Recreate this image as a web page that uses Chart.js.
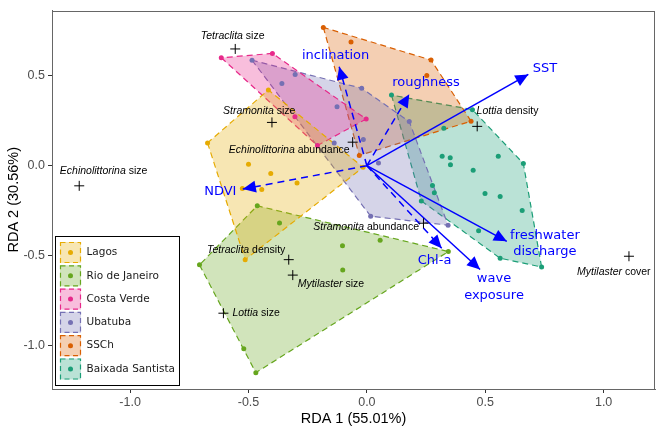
<!DOCTYPE html>
<html>
<head>
<meta charset="utf-8">
<script src="https://cdn.jsdelivr.net/npm/chart.js@4.4.0/dist/chart.umd.min.js"></script>
<style>
  body { margin: 0; background: #fff; }
</style>
</head>
<body>
<canvas id="rdaChart" width="665" height="432"></canvas>
<script>
// site scores (RDA1, RDA2) per region
var groups = ["Lagos", "Rio de Janeiro", "Costa Verde", "Ubatuba", "SSCh", "Baixada Santista"];

var lagosX = [-0.416, -0.673, -0.500, -0.406, -0.295, -0.526, -0.444, -0.514, -0.016];
var lagosY = [0.422, 0.127, 0.008, -0.044, -0.096, -0.127, -0.133, -0.523, -0.009];

var rioX = [-0.463, -0.369, -0.103, -0.102, 0.056, 0.344, -0.707, -0.520, -0.469];
var rioY = [-0.223, -0.319, -0.445, -0.581, -0.415, -0.478, -0.552, -1.019, -1.152];

var costaVerdeX = [-0.615, -0.399, -0.304, -0.209, -0.003];
var costaVerdeY = [0.601, 0.625, 0.273, 0.112, 0.260];

var ubatubaX = [-0.485, -0.303, -0.359, -0.126, -0.138, -0.022, 0.179, -0.015, 0.049, 0.016, 0.343];
var ubatubaY = [0.587, 0.508, 0.458, 0.328, 0.127, 0.431, 0.246, 0.146, 0.015, -0.281, -0.331];

var sschX = [-0.184, -0.067, 0.271, 0.253, 0.440, -0.032];
var sschY = [0.770, 0.688, 0.588, 0.502, 0.248, 0.057];

var baixadaX = [0.104, 0.446, 0.325, 0.318, 0.352, 0.353, 0.555, 0.661, 0.449, 0.277, 0.285, 0.230, 0.499, 0.563, 0.656, 0.472, 0.563, 0.738];
var baixadaY = [0.393, 0.312, 0.208, 0.052, 0.044, 0.005, 0.052, 0.012, -0.025, -0.110, -0.150, -0.196, -0.155, -0.172, -0.249, -0.362, -0.515, -0.564];

// environmental vectors
var envNames = ["SST", "inclination", "roughness", "NDVI", "freshwater\ndischarge", "wave\nexposure", "Chl-a"];
var envRDA1 = [0.682, -0.117, 0.179, -0.524, 0.591, 0.478, 0.316];
var envRDA2 = [0.508, 0.551, 0.398, -0.130, -0.421, -0.578, -0.459];
var envLabelRDA1 = [0.752, -0.132, 0.250, -0.619, 0.752, 0.537, 0.286];
var envLabelRDA2 = [0.540, 0.611, 0.462, -0.145, -0.434, -0.675, -0.527];
var envDashed = [false, true, true, true, false, false, true];

// species scores
var speciesGenus = ["Tetraclita", "Stramonita", "Echinolittorina", "Echinolittorina", "Lottia", "Stramonita", "Tetraclita", "Mytilaster", "Lottia", "Mytilaster"];
var speciesTrait = ["size", "size", "size", "abundance", "density", "abundance", "density", "size", "size", "cover"];
var speciesRDA1 = [-0.556, -0.401, -1.215, -0.060, 0.466, 0.239, -0.330, -0.313, -0.606, 1.107];
var speciesRDA2 = [0.650, 0.241, -0.112, 0.131, 0.219, -0.320, -0.523, -0.609, -0.821, -0.504];
var speciesLabelRDA1 = [-0.567, -0.455, -1.112, -0.328, 0.594, -0.003, -0.510, -0.152, -0.468, 1.043];
var speciesLabelRDA2 = [0.720, 0.302, -0.031, 0.085, 0.302, -0.344, -0.471, -0.657, -0.821, -0.591];

var xTicks = [-1.0, -0.5, 0.0, 0.5, 1.0];
var yTicks = [-1.0, -0.5, 0.0, 0.5];

var groupX = [lagosX, rioX, costaVerdeX, ubatubaX, sschX, baixadaX];
var groupY = [lagosY, rioY, costaVerdeY, ubatubaY, sschY, baixadaY];
var groupColors = ["#E6AB02", "#66A61E", "#E7298A", "#7570B3", "#D95F02", "#1B9E77"];

function alpha(hex, a) {
  var r = parseInt(hex.substr(1, 2), 16), g = parseInt(hex.substr(3, 2), 16), b = parseInt(hex.substr(5, 2), 16);
  return "rgba(" + r + "," + g + "," + b + "," + a + ")";
}

// convex hull (monotone chain), closed
function hull(xs, ys) {
  var pts = xs.map(function (x, i) { return { x: x, y: ys[i] }; });
  pts.sort(function (a, b) { return a.x - b.x || a.y - b.y; });
  function cross(o, a, b) { return (a.x - o.x) * (b.y - o.y) - (a.y - o.y) * (b.x - o.x); }
  var lower = [], upper = [];
  pts.forEach(function (p) {
    while (lower.length >= 2 && cross(lower[lower.length - 2], lower[lower.length - 1], p) <= 0) lower.pop();
    lower.push(p);
  });
  for (var i = pts.length - 1; i >= 0; i--) {
    var p = pts[i];
    while (upper.length >= 2 && cross(upper[upper.length - 2], upper[upper.length - 1], p) <= 0) upper.pop();
    upper.push(p);
  }
  upper.pop(); lower.pop();
  var h = lower.concat(upper);
  h.push(h[0]);
  return h;
}

var datasets = [];
groups.forEach(function (g, i) {
  datasets.push({
    label: g + " hull",
    data: hull(groupX[i], groupY[i]),
    showLine: true,
    fill: "shape",
    backgroundColor: alpha(groupColors[i], 0.3),
    borderColor: groupColors[i],
    borderWidth: 1.2,
    borderDash: [6, 4],
    pointRadius: 0,
    tension: 0,
    order: 10 + i
  });
  datasets.push({
    label: g,
    data: groupX[i].map(function (x, k) { return { x: x, y: groupY[i][k] }; }),
    pointRadius: 2.5,
    backgroundColor: groupColors[i],
    borderWidth: 0,
    order: 5
  });
});
envNames.forEach(function (n, i) {
  datasets.push({
    label: n,
    data: [{ x: 0, y: 0 }, { x: envRDA1[i], y: envRDA2[i] }],
    showLine: true,
    borderColor: "#0000ff",
    borderWidth: 1.5,
    borderDash: envDashed[i] ? [7, 5] : [],
    pointRadius: 0,
    order: 2
  });
});
datasets.push({
  label: "species",
  data: speciesRDA1.map(function (x, k) { return { x: x, y: speciesRDA2[k] }; }),
  pointStyle: "cross",
  pointRadius: 5,
  borderColor: "#000",
  borderWidth: 1,
  order: 1
});

// arrow heads, labels, panel border and legend
var overlay = {
  id: "overlay",
  afterDatasetsDraw: function (chart) {
    var ctx = chart.ctx, xs = chart.scales.x, ys = chart.scales.y, area = chart.chartArea;
    ctx.save();
    ctx.beginPath();
    ctx.rect(area.left, area.top, area.right - area.left, area.bottom - area.top);
    ctx.clip();

    // arrow heads
    var ox = xs.getPixelForValue(0), oy = ys.getPixelForValue(0);
    ctx.fillStyle = "#0000ff";
    envNames.forEach(function (n, i) {
      var tx = xs.getPixelForValue(envRDA1[i]), ty = ys.getPixelForValue(envRDA2[i]);
      var a = Math.atan2(ty - oy, tx - ox), L = 13, W = 6;
      var bx = tx - L * Math.cos(a), by = ty - L * Math.sin(a);
      ctx.beginPath();
      ctx.moveTo(tx, ty);
      ctx.lineTo(bx + W * Math.sin(a), by - W * Math.cos(a));
      ctx.lineTo(bx - W * Math.sin(a), by + W * Math.cos(a));
      ctx.closePath();
      ctx.fill();
    });

    // arrow labels
    ctx.font = "13px 'DejaVu Sans'";
    ctx.textAlign = "center";
    ctx.textBaseline = "middle";
    envNames.forEach(function (n, i) {
      var lines = n.split("\n");
      var cx = xs.getPixelForValue(envLabelRDA1[i]), cy = ys.getPixelForValue(envLabelRDA2[i]);
      lines.forEach(function (t, k) {
        ctx.fillText(t, cx, cy + (k - (lines.length - 1) / 2) * 16.7);
      });
    });

    // species labels: italic genus + plain trait
    ctx.fillStyle = "#000";
    ctx.textAlign = "left";
    speciesGenus.forEach(function (g, i) {
      var cx = xs.getPixelForValue(speciesLabelRDA1[i]), cy = ys.getPixelForValue(speciesLabelRDA2[i]);
      ctx.font = "italic 10.5px 'Liberation Sans'";
      var w1 = ctx.measureText(g).width;
      ctx.font = "10.5px 'Liberation Sans'";
      var rest = " " + speciesTrait[i];
      var w2 = ctx.measureText(rest).width;
      var sx = cx - (w1 + w2) / 2;
      ctx.font = "italic 10.5px 'Liberation Sans'";
      ctx.fillText(g, sx, cy);
      ctx.font = "10.5px 'Liberation Sans'";
      ctx.fillText(rest, sx + w1, cy);
    });
    ctx.restore();

    // panel border
    ctx.save();
    ctx.strokeStyle = "#666";
    ctx.lineWidth = 1;
    ctx.strokeRect(Math.round(area.left) + 0.5, Math.round(area.top) + 0.5,
      Math.round(area.right - area.left) - 1, Math.round(area.bottom - area.top) - 1);

    // legend
    var lx = 55, ly = 236, lw = 124, lh = 149;
    ctx.fillStyle = "#fff";
    ctx.fillRect(lx, ly, lw, lh);
    ctx.strokeStyle = "#000";
    ctx.strokeRect(lx + 0.5, ly + 0.5, lw, lh);
    groups.forEach(function (g, i) {
      var kx = 60, ky = 242 + i * 23.3, ks = 21;
      ctx.fillStyle = alpha(groupColors[i], 0.3);
      ctx.fillRect(kx, ky, ks, ks);
      ctx.strokeStyle = groupColors[i];
      ctx.lineWidth = 1.2;
      ctx.setLineDash([5, 3.5]);
      ctx.strokeRect(kx + 0.5, ky + 0.5, ks - 1, ks - 1);
      ctx.setLineDash([]);
      ctx.fillStyle = groupColors[i];
      ctx.beginPath();
      ctx.arc(kx + ks / 2, ky + ks / 2, 2.5, 0, Math.PI * 2);
      ctx.fill();
      ctx.fillStyle = "#1a1a1a";
      ctx.font = "10.5px 'DejaVu Sans'";
      ctx.textAlign = "left";
      ctx.textBaseline = "middle";
      ctx.fillText(g, 86.5, ky + ks / 2);
    });
    ctx.restore();
  }
};

Chart.defaults.font.family = "'Liberation Sans', Arial, sans-serif";

new Chart(document.getElementById("rdaChart").getContext("2d"), {
  type: "scatter",
  data: { datasets: datasets },
  options: {
    responsive: false,
    animation: false,
    events: [],
    devicePixelRatio: 1,
    layout: { padding: { top: 7, right: 10, left: 0, bottom: 0 } },
    plugins: { legend: { display: false }, tooltip: { enabled: false } },
    scales: {
      x: {
        type: "linear",
        min: -1.33,
        max: 1.217,
        afterBuildTicks: function (s) { s.ticks = xTicks.map(function (v) { return { value: v }; }); },
        afterFit: function (s) { s.height = 43; },
        ticks: {
          callback: function (v) { return v.toFixed(1); },
          color: "#4d4d4d",
          font: { size: 12.5 },
          padding: 2,
          maxRotation: 0,
          autoSkip: false
        },
        grid: { drawOnChartArea: false, tickLength: 4, color: "#666", tickColor: "#333" },
        border: { color: "#666" },
        title: { display: true, text: "RDA 1 (55.01%)", color: "#000", font: { size: 14.5 }, padding: { top: 1, bottom: 4 } }
      },
      y: {
        type: "linear",
        min: -1.243,
        max: 0.864,
        afterBuildTicks: function (s) { s.ticks = yTicks.map(function (v) { return { value: v }; }); },
        afterFit: function (s) { s.width = 52; },
        ticks: {
          callback: function (v) { return v.toFixed(1); },
          color: "#4d4d4d",
          font: { size: 12.5 },
          padding: 3,
          autoSkip: false
        },
        grid: { drawOnChartArea: false, tickLength: 4, color: "#666", tickColor: "#333" },
        border: { color: "#666" },
        title: { display: true, text: "RDA 2 (30.56%)", color: "#000", font: { size: 14.5 }, padding: { top: 5, bottom: 2 } }
      }
    }
  },
  plugins: [overlay]
});
</script>
</body>
</html>
